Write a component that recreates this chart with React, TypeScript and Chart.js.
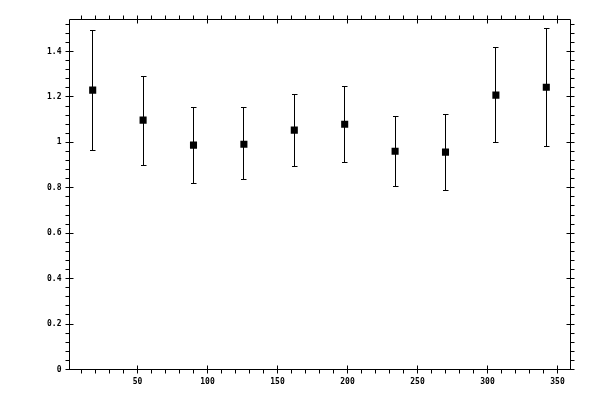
import React, { useEffect, useRef } from "react";
import { Chart, registerables } from "chart.js";

Chart.register(...registerables);

// Data
const xValues = [18, 54, 90, 126, 162, 198, 234, 270, 306, 342];
const yValues = [1.23, 1.098, 0.988, 0.992, 1.054, 1.08, 0.961, 0.957, 1.208, 1.243];
const yHigh = [1.494, 1.292, 1.153, 1.155, 1.212, 1.248, 1.115, 1.122, 1.419, 1.503];
const yLow = [0.966, 0.9, 0.82, 0.835, 0.895, 0.913, 0.807, 0.789, 1.001, 0.98];

const xMajorTicks = [50, 100, 150, 200, 250, 300, 350];
const xMinorTicks = [10, 20, 30, 40, 60, 70, 80, 90, 110, 120, 130, 140, 160, 170, 180, 190, 210, 220, 230, 240, 260, 270, 280, 290, 310, 320, 330, 340];
const yMajorTicks = [0, 0.2, 0.4, 0.6, 0.8, 1, 1.2, 1.4];
const yMinorTicks = [0.04, 0.08, 0.12, 0.16, 0.24, 0.28, 0.32, 0.36, 0.44, 0.48, 0.52, 0.56, 0.64, 0.68, 0.72, 0.76, 0.84, 0.88, 0.92, 0.96, 1.04, 1.08, 1.12, 1.16, 1.24, 1.28, 1.32, 1.36, 1.44, 1.48, 1.52];
const yTickLabels = ["0", "0.2", "0.4", "0.6", "0.8", "1", "1.2", "1.4"];
const xTickLabels = ["50", "100", "150", "200", "250", "300", "350"];

const crisp = (v: number) => Math.floor(v) + 0.5;

const errorBarPlugin = {
  id: "errorBars",
  beforeDatasetsDraw(chart: any) {
    const { ctx } = chart;
    const xs = chart.scales.x;
    const ys = chart.scales.y;
    ctx.save();
    ctx.strokeStyle = "#000";
    ctx.lineWidth = 1;
    ctx.beginPath();
    for (let i = 0; i < xValues.length; i++) {
      const px = crisp(xs.getPixelForValue(xValues[i]));
      const top = crisp(ys.getPixelForValue(yHigh[i]));
      const bot = crisp(ys.getPixelForValue(yLow[i]));
      ctx.moveTo(px, top);
      ctx.lineTo(px, bot);
      ctx.moveTo(px - 2.5, top);
      ctx.lineTo(px + 3, top);
      ctx.moveTo(px - 2.5, bot);
      ctx.lineTo(px + 3, bot);
    }
    ctx.stroke();
    ctx.restore();
  },
};

const framePlugin = {
  id: "frame",
  afterDraw(chart: any) {
    const { ctx, chartArea } = chart;
    const xs = chart.scales.x;
    const ys = chart.scales.y;
    const L = crisp(chartArea.left);
    const R = crisp(chartArea.right);
    const T = crisp(chartArea.top);
    const B = crisp(chartArea.bottom);
    ctx.save();
    ctx.strokeStyle = "#000";
    ctx.lineWidth = 1;
    ctx.beginPath();
    ctx.moveTo(L, T);
    ctx.lineTo(R, T);
    ctx.lineTo(R, B);
    ctx.lineTo(L, B);
    ctx.closePath();
    const len = 4;
    xMajorTicks.forEach((v) => {
      const px = crisp(xs.getPixelForValue(v));
      ctx.moveTo(px, B - len);
      ctx.lineTo(px, B + len);
      ctx.moveTo(px, T - len);
      ctx.lineTo(px, T + len);
    });
    xMinorTicks.forEach((v) => {
      const px = crisp(xs.getPixelForValue(v));
      ctx.moveTo(px, B);
      ctx.lineTo(px, B + len);
      ctx.moveTo(px, T);
      ctx.lineTo(px, T - len);
    });
    yMajorTicks.forEach((v) => {
      const py = crisp(ys.getPixelForValue(v));
      ctx.moveTo(L - len, py);
      ctx.lineTo(L + len, py);
      ctx.moveTo(R - len, py);
      ctx.lineTo(R + len, py);
    });
    yMinorTicks.forEach((v) => {
      const py = crisp(ys.getPixelForValue(v));
      ctx.moveTo(L - len, py);
      ctx.lineTo(L, py);
      ctx.moveTo(R, py);
      ctx.lineTo(R + len, py);
    });
    ctx.stroke();

    ctx.fillStyle = "#000";
    ctx.font = "bold 8px 'DejaVu Sans Mono', monospace";
    ctx.textAlign = "right";
    ctx.textBaseline = "middle";
    yMajorTicks.forEach((v, i) => {
      const py = ys.getPixelForValue(v);
      ctx.fillText(yTickLabels[i], L - 8, py);
    });
    ctx.textAlign = "center";
    xMajorTicks.forEach((v, i) => {
      const px = xs.getPixelForValue(v);
      ctx.fillText(xTickLabels[i], px, B + 12);
    });
    ctx.restore();
  },
};

export default function App() {
  const canvasRef = useRef<HTMLCanvasElement>(null);

  useEffect(() => {
    if (!canvasRef.current) return;
    const chart = new Chart(canvasRef.current, {
      type: "scatter",
      data: {
        datasets: [
          {
            data: xValues.map((x, i) => ({ x, y: yValues[i] })),
            backgroundColor: "#000",
            borderColor: "#000",
            pointStyle: "rect",
            pointRadius: 5,
            pointBorderWidth: 0,
            pointHoverRadius: 5,
          },
        ],
      },
      options: {
        animation: false,
        responsive: false,
        devicePixelRatio: 1,
        events: [],
        layout: { padding: { left: 69.5, right: 29.5, top: 19.5, bottom: 30.5 } },
        plugins: { legend: { display: false }, tooltip: { enabled: false } },
        scales: {
          x: {
            type: "linear",
            min: 1.43,
            max: 359.29,
            display: true,
            grid: { display: false, drawTicks: false },
            border: { display: false },
            ticks: { display: false },
          },
          y: {
            type: "linear",
            min: 0,
            max: 1.541,
            display: true,
            grid: { display: false, drawTicks: false },
            border: { display: false },
            ticks: { display: false },
          },
        },
      },
      plugins: [errorBarPlugin, framePlugin],
    });
    return () => chart.destroy();
  }, []);

  return (
    <div style={{ position: "absolute", left: 0, top: 0, width: 600, height: 400, background: "#fff" }}>
      <canvas ref={canvasRef} width={600} height={400} style={{ width: 600, height: 400 }} />
    </div>
  );
}
